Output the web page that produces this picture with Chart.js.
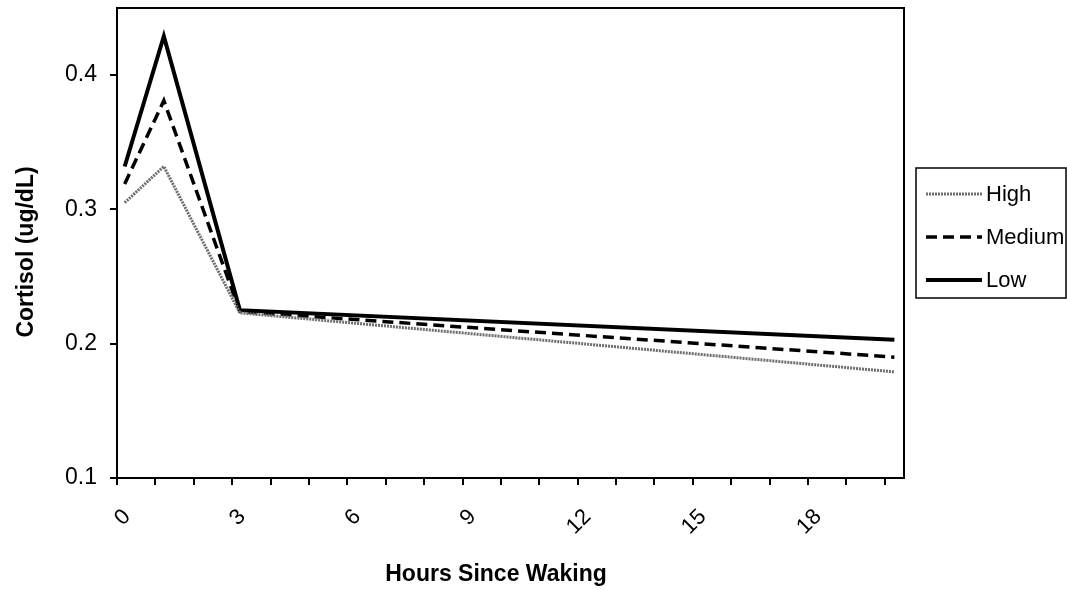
<!DOCTYPE html>
<html>
<head>
<meta charset="utf-8">
<script src="https://cdn.jsdelivr.net/npm/chart.js@4.4.1/dist/chart.umd.min.js"></script>
<style>
  html, body { margin: 0; padding: 0; background: #ffffff; }
  #wrap { width: 1067px; height: 590px; position: relative; }
</style>
</head>
<body>
<div id="wrap"><canvas id="c" width="1067" height="590"></canvas></div>
<script>
// ---- data ----
const hours  = [0.2, 1.22, 3.2, 20.25];
const high   = [0.305, 0.332, 0.223, 0.179];
const medium = [0.319, 0.381, 0.224, 0.190];
const low    = [0.332, 0.429, 0.225, 0.203];
const seriesNames = ['High', 'Medium', 'Low'];
const yTicks = [0.1, 0.2, 0.3, 0.4];
const xTicks = [0,1,2,3,4,5,6,7,8,9,10,11,12,13,14,15,16,17,18,19,20];
const xLabelEvery = 3;
const xTitle = 'Hours Since Waking';
const yTitle = 'Cortisol (ug/dL)';

const FONT = '"Liberation Sans", Arial, sans-serif';

const styles = [
  { color: '#6e6e6e', width: 3, dash: [2, 1] },
  { color: '#000000', width: 3.5, dash: [11, 6] },
  { color: '#000000', width: 4, dash: [] }
];
const seriesVals = [high, medium, low];

const datasets = seriesVals.map((vals, i) => ({
  label: seriesNames[i],
  data: hours.map((h, j) => ({ x: h, y: vals[j] })),
  borderColor: styles[i].color,
  borderWidth: styles[i].width,
  borderDash: styles[i].dash,
  borderJoinStyle: 'miter',
  pointRadius: 0,
  tension: 0,
  fill: false
}));

const framePlugin = {
  id: 'frame',
  afterDraw(chart) {
    const { ctx, chartArea: a } = chart;
    ctx.save();
    ctx.strokeStyle = '#000';
    ctx.lineWidth = 2;
    ctx.strokeRect(a.left, a.top, a.right - a.left, a.bottom - a.top);
    ctx.fillStyle = '#000';
    ctx.font = 'bold 23px ' + FONT;
    ctx.textAlign = 'center';
    ctx.textBaseline = 'middle';
    ctx.fillText(xTitle, 496, 575);
    ctx.save();
    ctx.translate(27, 252);
    ctx.rotate(-Math.PI / 2);
    ctx.fillText(yTitle, 0, 0);
    ctx.restore();
    const bx = 916, by = 168, bw = 150, bh = 130;
    ctx.lineWidth = 1.5;
    ctx.strokeRect(bx, by, bw, bh);
    const rows = [194, 237, 280];
    ctx.font = '22px ' + FONT;
    ctx.textAlign = 'left';
    seriesNames.forEach((n, i) => {
      ctx.save();
      ctx.strokeStyle = styles[i].color;
      ctx.lineWidth = styles[i].width;
      ctx.setLineDash(styles[i].dash);
      ctx.beginPath();
      ctx.moveTo(926, rows[i]);
      ctx.lineTo(982, rows[i]);
      ctx.stroke();
      ctx.restore();
      ctx.fillStyle = '#000';
      ctx.fillText(n, 986, rows[i] + 1);
    });
    ctx.restore();
  }
};

new Chart(document.getElementById('c'), {
  type: 'line',
  data: { datasets },
  plugins: [framePlugin],
  options: {
    responsive: false,
    animation: false,
    devicePixelRatio: 1,
    layout: { padding: { top: 8, right: 163, left: 0, bottom: 0 } },
    plugins: { legend: { display: false }, tooltip: { enabled: false } },
    scales: {
      x: {
        type: 'linear',
        min: 0,
        max: 20.5,
        afterBuildTicks(s) { s.ticks = xTicks.map(v => ({ value: v })); },
        afterFit(s) { s.height = 112; s.paddingLeft = 0; s.paddingRight = 0; },
        grid: { drawOnChartArea: false, drawTicks: true, tickLength: 7, color: '#000', lineWidth: 2 },
        border: { display: true, color: '#000', width: 2 },
        ticks: {
          autoSkip: false,
          minRotation: 45,
          maxRotation: 45,
          padding: 19,
          labelOffset: 10,
          color: '#000',
          font: { family: FONT, size: 22 },
          callback: (v) => (v % xLabelEvery === 0 ? String(v) : '')
        }
      },
      y: {
        type: 'linear',
        min: 0.1,
        max: 0.45,
        afterBuildTicks(s) { s.ticks = yTicks.map(v => ({ value: v })); },
        afterFit(s) { s.width = 117; s.paddingTop = 0; s.paddingBottom = 0; },
        grid: { drawOnChartArea: false, drawTicks: true, tickLength: 7, color: '#000', lineWidth: 2 },
        border: { display: true, color: '#000', width: 2 },
        ticks: {
          padding: 13,
          color: '#000',
          font: { family: FONT, size: 23 },
          callback: (v) => v.toFixed(1)
        }
      }
    }
  }
});
</script>
</body>
</html>
